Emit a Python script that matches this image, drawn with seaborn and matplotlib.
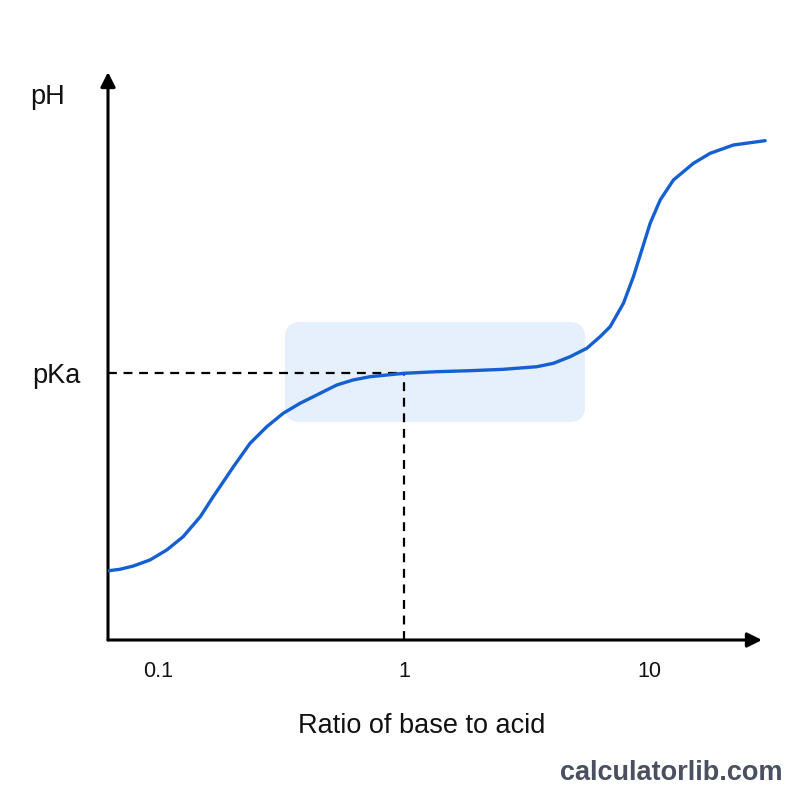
import numpy as np
import pandas as pd
import matplotlib
matplotlib.use("Agg")
import matplotlib.pyplot as plt
import seaborn as sns
from matplotlib.patches import FancyBboxPatch

# curve: ratio of base to acid vs pH
ratio = [0.0628, 0.0697, 0.0790, 0.0923, 0.108, 0.126, 0.148, 0.167, 0.178, 0.202,
         0.236, 0.276, 0.322, 0.377, 0.441, 0.532, 0.620, 0.727, 1.0, 1.359, 1.858,
         2.538, 3.472, 4.057, 4.745, 5.549, 6.285, 6.905, 7.823, 8.590, 9.293,
         10.05, 11.04, 12.50, 15.08, 17.64, 21.95, 29.54]
ph = [1.708, 1.743, 1.824, 1.972, 2.218, 2.546, 3.039, 3.532, 3.779, 4.272,
      4.848, 5.257, 5.588, 5.834, 6.039, 6.285, 6.409, 6.490, 6.574, 6.613, 6.638,
      6.672, 6.736, 6.820, 6.983, 7.190, 7.476, 7.722, 8.299, 8.955, 9.613,
      10.271, 10.845, 11.338, 11.750, 11.996, 12.201, 12.307]
pka = 6.574
tick_vals = [0.1, 1, 10]
tick_labels = ["0.1", "1", "10"]
# buffer region highlight (ratio range, pH range)
buffer_ratio = [0.327, 5.46]
buffer_ph = [5.37, 7.84]

df = pd.DataFrame({"ratio": ratio, "pH": ph})

sns.set_theme(style="white")
plt.rcParams["font.family"] = ["Liberation Sans", "DejaVu Sans"]

fig = plt.figure(figsize=(8, 8), dpi=100)
fig.patch.set_facecolor("white")
ax = fig.add_axes([108 / 800, 160 / 800, 667 / 800, 568 / 800])
ax.set_xscale("log")
ax.set_xlim(0.0623, 32.4)
ax.set_ylim(0, 14)
for s in ax.spines.values():
    s.set_visible(False)

sns.lineplot(data=df, x="ratio", y="pH", ax=ax, color="#1560d0", lw=2.4, zorder=4)
ax.lines[-1].set_solid_joinstyle("round")

# highlight box, converted to axes fraction so the corners stay round
p0 = ax.transAxes.inverted().transform(ax.transData.transform((buffer_ratio[0], buffer_ph[0])))
p1 = ax.transAxes.inverted().transform(ax.transData.transform((buffer_ratio[1], buffer_ph[1])))
box = FancyBboxPatch((p0[0], p0[1]), p1[0] - p0[0], p1[1] - p0[1],
                     boxstyle="round,pad=0,rounding_size=0.024", mutation_aspect=667 / 568,
                     transform=ax.transAxes, facecolor="#e6effc", edgecolor="none", zorder=1)
ax.add_patch(box)

# dashed guide lines to pKa
ax.hlines(pka, 0.0623, 1, colors="black", linestyles=(0, (4, 3)), lw=1.6, zorder=3)
ax.vlines(1, 0, pka, colors="black", linestyles=(0, (4, 3)), lw=1.6, zorder=3)

# axes with arrow heads
arrow = dict(arrowstyle="-|>", mutation_scale=22, lw=2.2, color="black", shrinkA=0, shrinkB=0)
ax.annotate("", xy=(0, 1.0), xytext=(0, 0), xycoords="axes fraction", arrowprops=arrow)
ax.annotate("", xy=(0.9805, 0), xytext=(0, 0), xycoords="axes fraction", arrowprops=arrow)

ax.set_xticks(tick_vals)
ax.set_xticklabels(tick_labels)
ax.minorticks_off()
ax.set_yticks([pka])
ax.set_yticklabels(["pKa"])
ax.tick_params(axis="x", length=0, pad=15, labelsize=15.5, colors="#111111")
ax.tick_params(axis="y", length=0, pad=20, labelsize=19.5, colors="#111111")

ax.set_xlabel("Ratio of base to acid", fontsize=19.5, color="#111111")
ax.xaxis.set_label_coords(0.471, -0.128)
ax.set_ylabel("pH", fontsize=19.5, rotation=0, color="#111111", ha="center", va="center")
ax.yaxis.set_label_coords(-0.0907, 0.956)

fig.text(0.978, 1 - 773 / 800, "calculatorlib.com", ha="right", va="center",
         fontsize=19.5, fontweight="bold", color="#4b5060")

fig.savefig("out.png", dpi=100, facecolor="white")
